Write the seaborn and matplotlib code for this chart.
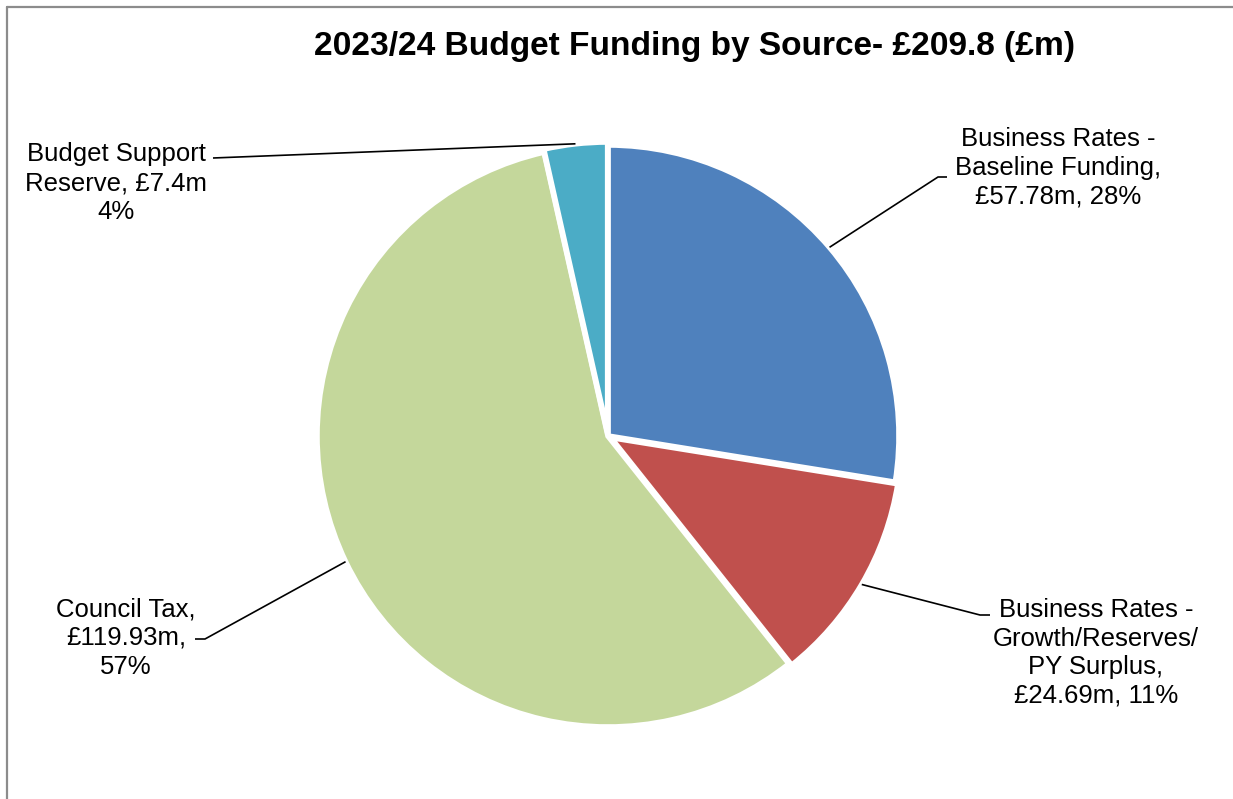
import matplotlib
matplotlib.use("Agg")
import matplotlib.pyplot as plt
import seaborn as sns
import numpy as np

# data
sources = ["Business Rates - Baseline Funding",
           "Business Rates - Growth/Reserves/PY Surplus",
           "Council Tax",
           "Budget Support Reserve"]
amounts = [57.78, 24.69, 119.93, 7.4]
label_texts = [
    "Business Rates -\nBaseline Funding,\n£57.78m, 28%",
    "Business Rates -\nGrowth/Reserves/\nPY Surplus,\n£24.69m, 11%",
    "Council Tax,\n£119.93m,\n57%",
    "Budget Support\nReserve, £7.4m\n4%",
]
colours = ["#4F81BD", "#C0504D", "#C4D79B", "#4BACC6"]
title = "2023/24 Budget Funding by Source- £209.8 (£m)"

W, H = 1233, 799


def fy(y):
    # image rows -> data y
    return H - y


sns.set_style("white")
plt.rcParams["font.family"] = ["Liberation Sans", "DejaVu Sans"]

fig = plt.figure(figsize=(W / 100, H / 100), dpi=100)
ax = fig.add_axes([0, 0, 1, 1])

wedges, _ = ax.pie(
    amounts,
    colors=sns.color_palette(colours),
    startangle=90,
    counterclock=False,
    center=(608, fy(436)),
    radius=291,
    explode=[0, 3, 0, 3],
    wedgeprops=dict(edgecolor="white", linewidth=4),
)
ax.set_xlim(0, W)
ax.set_ylim(0, H)
ax.axis("off")

# label placement (centre of text block) and leader line ends
label_pos = [(1058, 168), (1096, 653), (126, 638), (116, 183)]
leader_pts = [
    [(938, 177), (947, 177)],
    [(980, 615), (990, 615)],
    [(205, 639), (195, 639)],
    [(213, 158)],
]

for w, txt, (lx, ly), pts in zip(wedges, label_texts, label_pos, leader_pts):
    ang = np.deg2rad((w.theta1 + w.theta2) / 2)
    cx, cy = w.center
    sx = cx + w.r * np.cos(ang)
    sy = cy + w.r * np.sin(ang)
    xs = [sx] + [p[0] for p in pts]
    ys = [sy] + [fy(p[1]) for p in pts]
    ax.plot(xs, ys, color="black", lw=1.2, solid_capstyle="butt")
    ax.text(lx, fy(ly), txt, ha="center", va="center", multialignment="center",
            fontsize=18.5, linespacing=1.24, color="black")

# outer frame (top and left edges visible)
ax.plot([7, W], [fy(7), fy(7)], color="#8c8c8c", lw=1.6, clip_on=False)
ax.plot([7, 7], [fy(7), 0], color="#8c8c8c", lw=1.6, clip_on=False)

t = ax.text(695, fy(55), title, ha="center", va="baseline",
            fontsize=24, fontweight="bold", color="black")
fig.canvas.draw()
tw = t.get_window_extent().width
t.set_fontsize(24 * 762 / tw)

fig.savefig("out.png", dpi=100)
